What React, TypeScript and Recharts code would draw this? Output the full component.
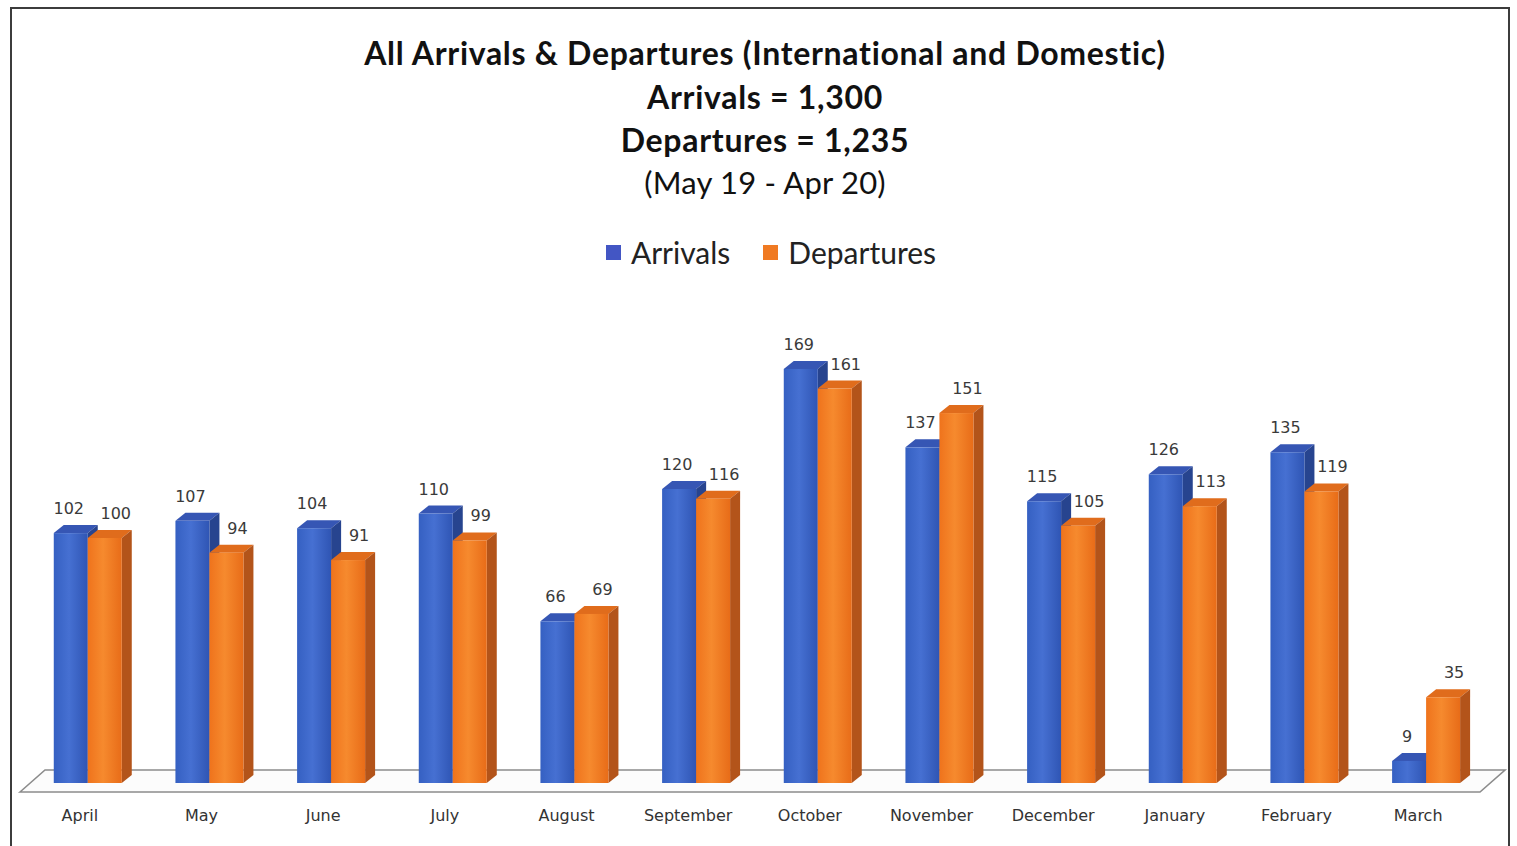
import { BarChart, Bar, XAxis, YAxis, Legend, LabelList } from 'recharts';

const months = ['April', 'May', 'June', 'July', 'August', 'September', 'October', 'November', 'December', 'January', 'February', 'March'];
const arrivals = [102, 107, 104, 110, 66, 120, 169, 137, 115, 126, 135, 9];
const departures = [100, 94, 91, 99, 69, 116, 161, 151, 105, 113, 119, 35];

const data = months.map((month, i) => ({ month, arrivals: arrivals[i], departures: departures[i] }));

const DX = 10;
const DY = 8;

const palette = {
  arrivals: { grad: 'gradBlue', top: '#3656b4', side: '#27448f', legend: '#4356c4' },
  departures: { grad: 'gradOrange', top: '#e06c1c', side: '#b3541a', legend: '#f07a22' },
};

function Bar3D(props: any) {
  const { x, y, width, height, colors } = props;
  if (!height || height <= 0) return null;
  const r = x + width;
  const b = y + height;
  return (
    <g>
      <polygon points={`${x},${y} ${x + DX},${y - DY} ${r + DX},${y - DY} ${r},${y}`} fill={colors.top} />
      <polygon points={`${r},${y} ${r + DX},${y - DY} ${r + DX},${b - DY} ${r},${b}`} fill={colors.side} />
      <rect x={x} y={y} width={width} height={height} fill={`url(#${colors.grad})`} />
    </g>
  );
}

const makeLabel = (off: number) => (p: any) => {
  const { x, y, width, value } = p;
  return (
    <text x={x + width / 2 + off} y={y - 19} textAnchor="middle" fontSize={16} fill="#3a3a3a" fontFamily="DejaVu Sans">
      {value}
    </text>
  );
};

const MonthTick = (p: any) => {
  const { x, y, payload } = p;
  return (
    <text x={x - 8} y={y} dy={30} textAnchor="middle" fontSize={16} fill="#333" fontFamily="DejaVu Sans">
      {payload.value}
    </text>
  );
};

const LegendBox = () => (
  <div style={{ display: 'flex', justifyContent: 'center', alignItems: 'center', gap: 33, fontFamily: 'Lato', fontSize: 30, color: '#222' }}>
    <span style={{ display: 'flex', alignItems: 'center', gap: 10 }}>
      <span style={{ width: 15, height: 15, background: palette.arrivals.legend, display: 'inline-block' }} />
      Arrivals
    </span>
    <span style={{ display: 'flex', alignItems: 'center', gap: 10 }}>
      <span style={{ width: 15, height: 15, background: palette.departures.legend, display: 'inline-block' }} />
      Departures
    </span>
  </div>
);

const titleLine = (text: string, top: number, bold: boolean) => (
  <div style={{ position: 'absolute', left: 0, width: 1530, top, textAlign: 'center', fontFamily: 'Lato', fontSize: bold ? 32 : 31, letterSpacing: bold ? 0.7 : 0.2, fontWeight: bold ? 700 : 400, color: '#111', lineHeight: '36px' }}>
    {text}
  </div>
);

export default function App() {
  return (
    <div style={{ position: 'absolute', left: 0, top: 0, width: 1517, height: 846, background: '#fff', overflow: 'hidden' }}>
      <svg width={0} height={0} style={{ position: 'absolute' }}>
        <defs>
          <linearGradient id="gradBlue" x1="0" y1="0" x2="1" y2="0">
            <stop offset="0%" stopColor="#3560c2" />
            <stop offset="45%" stopColor="#4670d2" />
            <stop offset="100%" stopColor="#2f55b4" />
          </linearGradient>
          <linearGradient id="gradOrange" x1="0" y1="0" x2="1" y2="0">
            <stop offset="0%" stopColor="#ef731c" />
            <stop offset="45%" stopColor="#f68a2e" />
            <stop offset="100%" stopColor="#e86c18" />
          </linearGradient>
        </defs>
      </svg>
      <div style={{ position: 'absolute', left: 10, top: 7, width: 1496, height: 860, border: '2px solid #3c3c3c' }} />
      <svg width={1517} height={846} style={{ position: 'absolute', left: 0, top: 0 }}>
        <polygon points="20,792 45,770 1505,770 1480,792" fill="#fcfcfc" stroke="#8c8c8c" strokeWidth={1.6} />
      </svg>
      {titleLine('All Arrivals & Departures (International and Domestic)', 35, true)}
      {titleLine('Arrivals = 1,300', 79, true)}
      {titleLine('Departures = 1,235', 122, true)}
      {titleLine('(May 19 - Apr 20)', 164, false)}
      <div style={{ position: 'absolute', left: 0, top: 0 }}>
        <BarChart width={1517} height={846} data={data} margin={{ top: 342, right: 30, bottom: 33, left: 27 }} barGap={0} barCategoryGap="22%">
          <XAxis dataKey="month" axisLine={false} tickLine={false} height={30} tick={<MonthTick />} interval={0} />
          <YAxis hide domain={[0, 180]} />
          <Legend verticalAlign="middle" align="center" content={<LegendBox />} wrapperStyle={{ top: 234, left: 6, width: 1530 }} />
          <Bar dataKey="arrivals" name="Arrivals" fill="#4472c4" isAnimationActive={false} shape={(p: any) => <Bar3D {...p} colors={palette.arrivals} />}>
            <LabelList dataKey="arrivals" content={makeLabel(-2)} />
          </Bar>
          <Bar dataKey="departures" name="Departures" fill="#ed7d31" isAnimationActive={false} shape={(p: any) => <Bar3D {...p} colors={palette.departures} />}>
            <LabelList dataKey="departures" content={makeLabel(11)} />
          </Bar>
        </BarChart>
      </div>
    </div>
  );
}
